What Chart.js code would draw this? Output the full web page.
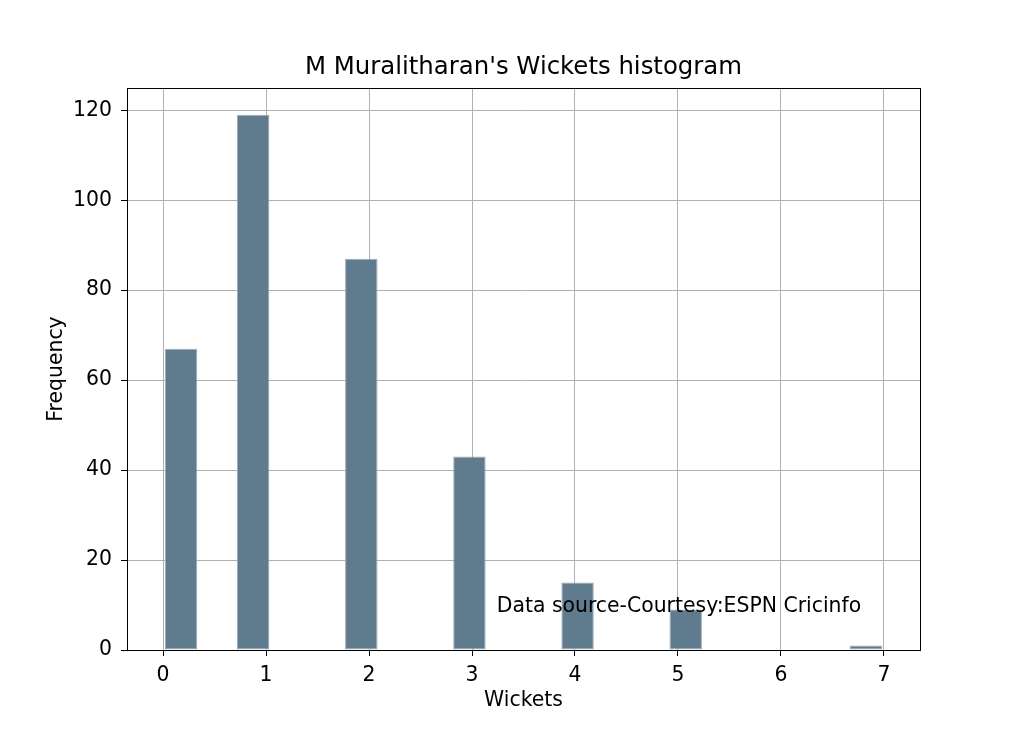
<!DOCTYPE html>
<html>
<head>
<meta charset="utf-8">
<script src="https://cdn.jsdelivr.net/npm/chart.js@4/dist/chart.umd.min.js"></script>
<style>
  html, body { margin: 0; padding: 0; background: #ffffff; }
  #wrap { width: 1023px; height: 731px; }
</style>
</head>
<body>
<div id="wrap"><canvas id="hist"></canvas></div>
<script>
    // histogram bins (20 bins over 0..7) and their counts
    const binCenters = [0.175, 0.525, 0.875, 1.225, 1.575, 1.925, 2.275, 2.625, 2.975, 3.325,
                        3.675, 4.025, 4.375, 4.725, 5.075, 5.425, 5.775, 6.125, 6.475, 6.825];
    const binCounts  = [67, 0, 119, 0, 0, 87, 0, 0, 43, 0,
                        0, 15, 0, 0, 9, 0, 0, 0, 0, 1];
    const xTicks = [0, 1, 2, 3, 4, 5, 6, 7];
    const yTicks = [0, 20, 40, 60, 80, 100, 120];
    const xRange = [-0.35, 7.35];
    const yRange = [0, 124.95];
    const noteText = 'Data source-Courtesy:ESPN Cricinfo';
    const notePos = [3.24, 8.4];

    const font = "'DejaVu Sans', sans-serif";
    const txt = 20.4;

    // full box round the plot area plus the source note
    const frameAndNote = {
        id: 'frameAndNote',
        afterDraw(chart) {
            const ctx = chart.ctx;
            const a = chart.chartArea;
            const xs = chart.scales.x;
            const ys = chart.scales.y;
            ctx.save();
            ctx.font = txt + 'px ' + font;
            ctx.fillStyle = '#000000';
            ctx.textAlign = 'left';
            ctx.textBaseline = 'alphabetic';
            ctx.fillText(noteText, xs.getPixelForValue(notePos[0]), ys.getPixelForValue(notePos[1]));
            ctx.strokeStyle = '#000000';
            ctx.lineWidth = 1;
            ctx.strokeRect(Math.round(a.left) + 0.5, Math.round(a.top) + 0.5,
                           Math.round(a.right - a.left), Math.round(a.bottom - a.top));
            ctx.restore();
        }
    };

    const data = binCenters.map((c, i) => ({ x: c, y: binCounts[i] }));

    new Chart(document.getElementById('hist'), {
        type: 'bar',
        data: {
            datasets: [{
                label: 'Wickets',
                data: data,
                backgroundColor: '#607b8e',
                borderColor: '#9aabb8',
                borderWidth: ctx => (ctx.raw && ctx.raw.y > 0 ? 1 : 0),
                borderSkipped: false,
                barPercentage: 0.9,
                categoryPercentage: 1.0
            }]
        },
        options: {
            responsive: true,
            maintainAspectRatio: false,
            animation: false,
            layout: { padding: { left: 0, right: 103, top: 53.4, bottom: 0 } },
            plugins: {
                legend: { display: false },
                tooltip: { enabled: false },
                title: {
                    display: true,
                    text: "M Muralitharan's Wickets histogram",
                    color: '#000000',
                    fullSize: false,
                    font: { family: font, size: 24.4, weight: 'normal', lineHeight: 1.2 },
                    padding: { top: 0, bottom: 5.3 }
                }
            },
            scales: {
                x: {
                    type: 'linear',
                    min: xRange[0],
                    max: xRange[1],
                    offset: false,
                    z: 1,
                    afterBuildTicks: s => { s.ticks = xTicks.map(v => ({ value: v })); },
                    afterFit: s => { s.height = 81; },
                    grid: { offset: false, color: '#b0b0b0', lineWidth: 1, tickLength: 6, tickColor: '#000000' },
                    border: { display: false },
                    ticks: { color: '#000000', padding: 7, maxRotation: 0, font: { family: font, size: txt } },
                    title: {
                        display: true, text: 'Wickets', color: '#000000',
                        font: { family: font, size: txt }, padding: { top: 0, bottom: 18 }
                    }
                },
                y: {
                    min: yRange[0],
                    max: yRange[1],
                    z: 1,
                    afterBuildTicks: s => { s.ticks = yTicks.map(v => ({ value: v })); },
                    afterFit: s => { s.width = 127; },
                    grid: { color: '#b0b0b0', lineWidth: 1, tickLength: 6, tickColor: '#000000' },
                    border: { display: false },
                    ticks: { color: '#000000', padding: 9, font: { family: font, size: txt } },
                    title: {
                        display: true, text: 'Frequency', color: '#000000',
                        font: { family: font, size: txt }, padding: { top: 44, bottom: 0 }
                    }
                }
            }
        },
        plugins: [frameAndNote]
    });
</script>
</body>
</html>
